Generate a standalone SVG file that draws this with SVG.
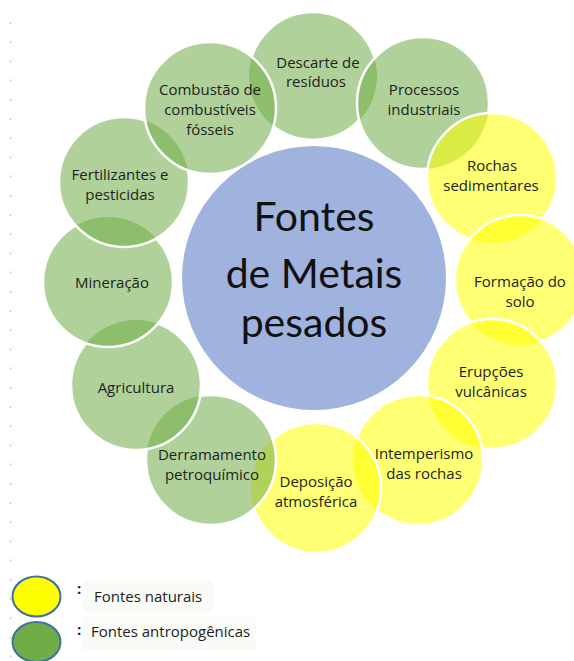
<svg xmlns="http://www.w3.org/2000/svg" width="574" height="661" viewBox="0 0 574 661">
<style>
.g{fill:#70AD47;fill-opacity:0.55}
.y{fill:#FFFF00;fill-opacity:0.55}
.s{fill:none;stroke:#fff;stroke-width:2.5}
.t{font-family:"Open Sans","Liberation Sans",sans-serif;font-size:15px;fill:#1e1e1e;text-anchor:middle}
.c{font-family:Lato,"Open Sans",sans-serif;font-size:41px;fill:#111;text-anchor:middle}
.l{font-family:"Open Sans","Liberation Sans",sans-serif;font-size:15px;fill:#1e1e1e}
</style>
<defs>
<rect id="bg" width="574" height="661" fill="#fff"/>
<mask id="m0" maskUnits="userSpaceOnUse" x="0" y="0" width="574" height="661"><use href="#bg"/><circle cx="423" cy="103" r="65" fill="#000"/><circle cx="210" cy="108" r="65" fill="#000"/></mask>
<mask id="m1" maskUnits="userSpaceOnUse" x="0" y="0" width="574" height="661"><use href="#bg"/><circle cx="492" cy="178" r="64" fill="#000"/></mask>
<mask id="m2" maskUnits="userSpaceOnUse" x="0" y="0" width="574" height="661"><use href="#bg"/><circle cx="520" cy="280" r="64" fill="#000"/></mask>
<mask id="m3" maskUnits="userSpaceOnUse" x="0" y="0" width="574" height="661"><use href="#bg"/><circle cx="492" cy="384" r="64" fill="#000"/></mask>
<mask id="m4" maskUnits="userSpaceOnUse" x="0" y="0" width="574" height="661"><use href="#bg"/><circle cx="418" cy="460" r="64" fill="#000"/></mask>
<mask id="m5" maskUnits="userSpaceOnUse" x="0" y="0" width="574" height="661"><use href="#bg"/><circle cx="316" cy="488" r="64" fill="#000"/></mask>
<mask id="m6" maskUnits="userSpaceOnUse" x="0" y="0" width="574" height="661"><use href="#bg"/><circle cx="211" cy="460" r="64" fill="#000"/></mask>
<mask id="m7" maskUnits="userSpaceOnUse" x="0" y="0" width="574" height="661"><use href="#bg"/><circle cx="136" cy="385" r="64" fill="#000"/></mask>
<mask id="m8" maskUnits="userSpaceOnUse" x="0" y="0" width="574" height="661"><use href="#bg"/><circle cx="108" cy="282" r="64" fill="#000"/></mask>
<mask id="m9" maskUnits="userSpaceOnUse" x="0" y="0" width="574" height="661"><use href="#bg"/><circle cx="124" cy="182" r="64" fill="#000"/></mask>
<mask id="m10" maskUnits="userSpaceOnUse" x="0" y="0" width="574" height="661"><use href="#bg"/><circle cx="210" cy="108" r="65" fill="#000"/></mask>
</defs>
<rect width="574" height="661" fill="#fff"/>
<line x1="10.5" y1="22" x2="10.5" y2="661" stroke="#c8c8c8" stroke-width="1.5" stroke-dasharray="2 17.2"/>
<g id="centro">
<circle cx="314" cy="278" r="132" fill="#9FB3DE"/>
<text class="c" x="314" y="231">Fontes</text>
<text class="c" x="314" y="288">de Metais</text>
<text class="c" x="314" y="337">pesados</text>
</g>
<g id="descarte"><circle class="g" cx="313" cy="76" r="64"/><circle class="s" cx="313" cy="76" r="64" mask="url(#m0)"/><text class="t" x="318" y="68">Descarte de</text><text class="t" x="316" y="87">resíduos</text></g>
<g id="processos"><circle class="g" cx="423" cy="103" r="66"/><circle class="s" cx="423" cy="103" r="66" mask="url(#m1)"/><text class="t" x="424" y="95">Processos</text><text class="t" x="424" y="115">industriais</text></g>
<g id="rochas"><circle class="y" cx="492" cy="178" r="65"/><circle class="s" cx="492" cy="178" r="65" mask="url(#m2)"/><text class="t" x="492" y="171">Rochas</text><text class="t" x="491" y="191">sedimentares</text></g>
<g id="formacao"><circle class="y" cx="520" cy="280" r="65"/><circle class="s" cx="520" cy="280" r="65" mask="url(#m3)"/><text class="t" x="520" y="287">Formação do</text><text class="t" x="520" y="307">solo</text></g>
<g id="erupcoes"><circle class="y" cx="492" cy="384" r="65"/><circle class="s" cx="492" cy="384" r="65" mask="url(#m4)"/><text class="t" x="491" y="377">Erupções</text><text class="t" x="491" y="397">vulcânicas</text></g>
<g id="intemperismo"><circle class="y" cx="418" cy="460" r="65"/><circle class="s" cx="418" cy="460" r="65" mask="url(#m5)"/><text class="t" x="424" y="459">Intemperismo</text><text class="t" x="424" y="479">das rochas</text></g>
<g id="deposicao"><circle class="y" cx="316" cy="488" r="65"/><circle class="s" cx="316" cy="488" r="65" mask="url(#m6)"/><text class="t" x="316" y="487">Deposição</text><text class="t" x="316" y="507">atmosférica</text></g>
<g id="derramamento"><circle class="g" cx="211" cy="460" r="65"/><circle class="s" cx="211" cy="460" r="65" mask="url(#m7)"/><text class="t" x="212" y="460">Derramamento</text><text class="t" x="212" y="480">petroquímico</text></g>
<g id="agricultura"><circle class="g" cx="136" cy="385" r="65"/><circle class="s" cx="136" cy="385" r="65" mask="url(#m8)"/><text class="t" x="136" y="393">Agricultura</text></g>
<g id="mineracao"><circle class="g" cx="108" cy="282" r="65"/><circle class="s" cx="108" cy="282" r="65" mask="url(#m9)"/><text class="t" x="112" y="288">Mineração</text></g>
<g id="fertilizantes"><circle class="g" cx="124" cy="182" r="65"/><circle class="s" cx="124" cy="182" r="65" mask="url(#m10)"/><text class="t" x="120" y="180">Fertilizantes e</text><text class="t" x="120" y="200">pesticidas</text></g>
<g id="combustao"><circle class="g" cx="210" cy="108" r="66"/><circle class="s" cx="210" cy="108" r="66"/><text class="t" x="210" y="95">Combustão de</text><text class="t" x="210" y="115">combustíveis</text><text class="t" x="210" y="135">fósseis</text></g>
<g id="legenda">
<rect x="83" y="580" width="130" height="33" fill="#f8fbf6"/>
<rect x="83" y="617" width="173" height="33" fill="#f8fbf6"/>
<ellipse cx="36.5" cy="596.5" rx="24" ry="20" fill="#FFFF00" stroke="#41719C" stroke-width="2"/>
<ellipse cx="36.5" cy="642" rx="24" ry="20" fill="#70AD47" stroke="#41719C" stroke-width="2"/>
<text class="l" x="77" y="594" font-weight="bold">:</text>
<text class="l" x="94" y="602">Fontes naturais</text>
<text class="l" x="77" y="635" font-weight="bold">:</text>
<text class="l" x="91" y="637">Fontes antropogênicas</text>
</g>
</svg>
